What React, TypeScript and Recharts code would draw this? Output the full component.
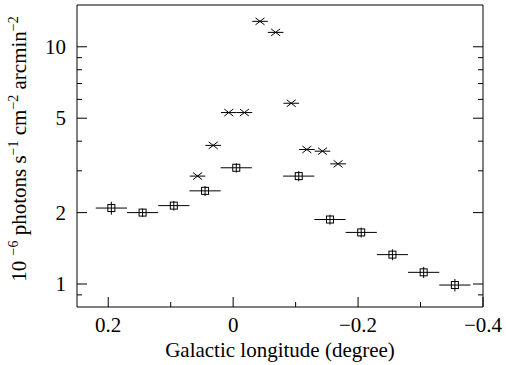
import { ComposedChart, Scatter, XAxis, YAxis, ErrorBar } from "recharts";

// wide bins (squares), 0.05 deg
const squareLon = [0.195, 0.145, 0.095, 0.045, -0.005, -0.105, -0.155, -0.205, -0.255, -0.305, -0.355];
const squareFlux = [2.09, 2.0, 2.14, 2.47, 3.09, 2.85, 1.87, 1.65, 1.33, 1.12, 0.99];
const squareYErr = [0.13, 0.08, 0.1, 0.12, 0.14, 0.14, 0.09, 0.08, 0.07, 0.06, 0.06];
const squareHalfWidth = 0.025;

// narrow bins (crosses), 0.025 deg
const crossLon = [0.057, 0.032, 0.007, -0.018, -0.043, -0.068, -0.093, -0.118, -0.143, -0.168];
const crossFlux = [2.85, 3.84, 5.28, 5.28, 12.8, 11.5, 5.78, 3.69, 3.63, 3.21];
const crossHalfWidth = 0.0125;

const xTicks = [0.2, 0.1, 0, -0.1, -0.2, -0.3, -0.4];
const xMajor = [0.2, 0, -0.2, -0.4];
const yTicks = [0.9, 1, 2, 3, 4, 5, 6, 7, 8, 9, 10];
const yMajor = [1, 2, 5, 10];

const squares = squareLon.map((lon, i) => ({
  lon,
  flux: squareFlux[i],
  xe: squareHalfWidth,
  ye: squareYErr[i],
}));
const crosses = crossLon.map((lon, i) => ({ lon, flux: crossFlux[i], xe: crossHalfWidth }));

const txt = { fontFamily: '"Liberation Serif", "Times New Roman", serif', fontSize: 21 };
const ink = "#000";
const fmt = (v: number) => (v < 0 ? "\u2212" + Math.abs(v) : String(v));

function BottomTick({ x, y, payload }: any) {
  const v = payload.value;
  const major = xMajor.includes(v);
  return (
    <g>
      <line x1={x} x2={x} y1={y} y2={y - (major ? 10 : 5)} stroke={ink} />
      {major && (
        <text x={x} y={y + 25} textAnchor="middle" style={txt} fill={ink}>
          {fmt(v)}
        </text>
      )}
    </g>
  );
}

function TopTick({ x, y, payload }: any) {
  const major = xMajor.includes(payload.value);
  return <line x1={x} x2={x} y1={y} y2={y + (major ? 10 : 5)} stroke={ink} />;
}

function LeftTick({ x, y, payload }: any) {
  const v = payload.value;
  const major = yMajor.includes(v);
  return (
    <g>
      <line x1={x} x2={x + (major ? 10 : 5)} y1={y} y2={y} stroke={ink} />
      {major && (
        <text x={x - 11} y={y + 7} textAnchor="end" style={txt} fill={ink}>
          {v}
        </text>
      )}
    </g>
  );
}

function RightTick({ x, y, payload }: any) {
  const major = yMajor.includes(payload.value);
  return <line x1={x} x2={x - (major ? 10 : 5)} y1={y} y2={y} stroke={ink} />;
}

function XTitle({ viewBox }: any) {
  const { x, y, width } = viewBox;
  return (
    <text x={x + width / 2} y={y + 50} textAnchor="middle" style={txt} fill={ink}>
      Galactic longitude (degree)
    </text>
  );
}

function YTitle({ viewBox }: any) {
  const cx = 26;
  const cy = viewBox.y + viewBox.height / 2 - 7;
  const sup = { style: { fontSize: 14 } };
  return (
    <text
      x={cx}
      y={cy}
      transform={`rotate(-90, ${cx}, ${cy})`}
      textAnchor="middle"
      style={txt}
      fill={ink}
    >
      <tspan>10 </tspan>
      <tspan {...sup} dy={-8}>{"\u22126"}</tspan>
      <tspan dy={8}> photons s</tspan>
      <tspan {...sup} dy={-8}>{"\u22121"}</tspan>
      <tspan dy={8}> cm</tspan>
      <tspan {...sup} dy={-8}>{"\u22122"}</tspan>
      <tspan dy={8}> arcmin</tspan>
      <tspan {...sup} dy={-8}>{"\u22122"}</tspan>
    </text>
  );
}

function SquareMark({ cx, cy }: any) {
  return <rect x={cx - 3.5} y={cy - 3.5} width={7} height={7} fill="none" stroke={ink} strokeWidth={1} />;
}

function CrossMark({ cx, cy }: any) {
  return (
    <g stroke={ink} strokeWidth={1}>
      <line x1={cx - 4.5} y1={cy - 3.5} x2={cx + 4.5} y2={cy + 3.5} />
      <line x1={cx - 4.5} y1={cy + 3.5} x2={cx + 4.5} y2={cy - 3.5} />
    </g>
  );
}

export default function App() {
  return (
    <div style={{ position: "absolute", left: 0, top: 0, background: "#fff" }}>
      <ComposedChart width={506} height={365} margin={{ top: 0, right: 0, bottom: 0, left: 0 }}>
        <XAxis
          xAxisId="b"
          dataKey="lon"
          type="number"
          domain={[-0.4, 0.25]}
          reversed
          allowDataOverflow
          ticks={xTicks}
          interval={0}
          height={58}
          tickSize={0}
          tickMargin={0}
          tickLine={false}
          axisLine={{ stroke: ink }}
          tick={<BottomTick />}
          label={<XTitle />}
        />
        <XAxis
          xAxisId="t"
          orientation="top"
          type="number"
          domain={[-0.4, 0.25]}
          reversed
          allowDataOverflow
          ticks={xTicks}
          interval={0}
          height={5}
          tickSize={0}
          tickMargin={0}
          tickLine={false}
          axisLine={{ stroke: ink }}
          tick={<TopTick />}
        />
        <YAxis
          yAxisId="l"
          dataKey="flux"
          type="number"
          scale="log"
          domain={[0.8, 15]}
          allowDataOverflow
          ticks={yTicks}
          interval={0}
          width={77}
          tickSize={0}
          tickMargin={0}
          tickLine={false}
          axisLine={{ stroke: ink }}
          tick={<LeftTick />}
          label={<YTitle />}
        />
        <YAxis
          yAxisId="r"
          orientation="right"
          type="number"
          scale="log"
          domain={[0.8, 15]}
          allowDataOverflow
          ticks={yTicks}
          interval={0}
          width={23}
          tickSize={0}
          tickMargin={0}
          tickLine={false}
          axisLine={{ stroke: ink }}
          tick={<RightTick />}
        />
        <Scatter
          xAxisId="b"
          yAxisId="l"
          data={squares}
          dataKey="flux"
          shape={<SquareMark />}
          isAnimationActive={false}
        >
          <ErrorBar dataKey="xe" direction="x" width={0} stroke={ink} strokeWidth={1} isAnimationActive={false} />
          <ErrorBar dataKey="ye" direction="y" width={0} stroke={ink} strokeWidth={1} isAnimationActive={false} />
        </Scatter>
        <Scatter
          xAxisId="b"
          yAxisId="l"
          data={crosses}
          dataKey="flux"
          shape={<CrossMark />}
          isAnimationActive={false}
        >
          <ErrorBar dataKey="xe" direction="x" width={0} stroke={ink} strokeWidth={1} isAnimationActive={false} />
        </Scatter>
      </ComposedChart>
    </div>
  );
}
